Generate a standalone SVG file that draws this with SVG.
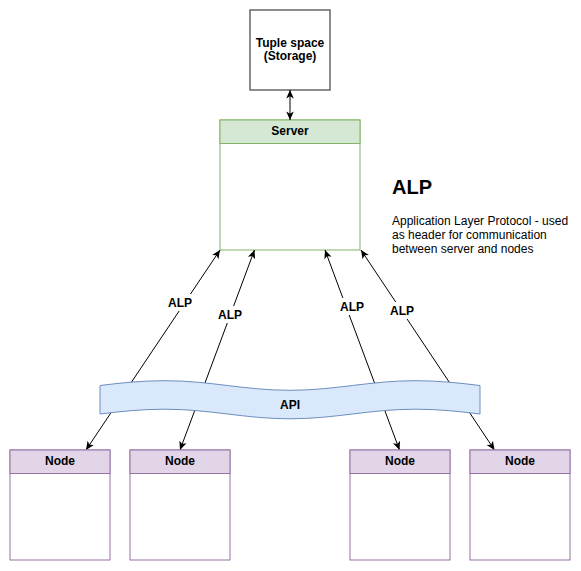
<svg xmlns="http://www.w3.org/2000/svg" width="581" height="571" viewBox="0 0 581 571">
<style>
text{font-family:"Liberation Sans",Arial,Helvetica,sans-serif;fill:#000}
.b{font-weight:bold;font-size:12px;text-anchor:middle}
.d{font-size:12px}
.srv{fill:#d5e8d4;stroke:#82b366;stroke-width:1}
.srvb{fill:#fff;stroke:#82b366;stroke-width:1}
.nd{fill:#e1d5e7;stroke:#9673a6;stroke-width:1}
.ndb{fill:#fff;stroke:#9673a6;stroke-width:1}
.edge{stroke:#000;stroke-width:1;fill:none;marker-start:url(#arr);marker-end:url(#arr)}
.lbg{fill:#fff}
</style>
<defs>
<marker id="arr" viewBox="-9 -5 10 10" refX="0" refY="0" markerWidth="10" markerHeight="10" markerUnits="userSpaceOnUse" orient="auto-start-reverse">
<path d="M0,0 L-8.5,-3.8 L-6.3,0 L-8.5,3.8 Z" fill="#000"/>
</marker>
</defs>
<rect width="581" height="571" fill="#fff"/>

<g id="tuple-space">
<rect x="250" y="10" width="80" height="80" fill="#fff" stroke="#666" stroke-width="1.5"/>
<text class="b" x="290" y="47">Tuple space</text>
<text class="b" x="290" y="60">(Storage)</text>
</g>

<g id="server">
<rect class="srvb" x="220" y="120" width="140" height="130"/>
<rect class="srv" x="220" y="120" width="140" height="23.5"/>
<text class="b" x="290" y="135">Server</text>
</g>

<g id="alp-note">
<text x="392" y="194" style="font-size:20px;font-weight:bold">ALP</text>
<text class="d" x="392" y="225">Application Layer Protocol - used</text>
<text class="d" x="392" y="239">as header for communication</text>
<text class="d" x="392" y="253">between server and nodes</text>
</g>

<g id="connectors">
<line class="edge" x1="290" y1="90" x2="290" y2="120"/>
<line class="edge" x1="220" y1="250" x2="86" y2="450"/>
<line class="edge" x1="254.5" y1="250" x2="180" y2="450"/>
<line class="edge" x1="325" y1="250" x2="399.5" y2="450"/>
<line class="edge" x1="361" y1="250" x2="494.5" y2="450"/>
<rect class="lbg" x="166" y="294" width="28" height="17"/>
<text class="b" x="180" y="306.5">ALP</text>
<rect class="lbg" x="216" y="306" width="28" height="17"/>
<text class="b" x="230" y="318.5">ALP</text>
<rect class="lbg" x="338" y="298" width="28" height="17"/>
<text class="b" x="352" y="310.5">ALP</text>
<rect class="lbg" x="388" y="302" width="28" height="17"/>
<text class="b" x="402" y="314.5">ALP</text>
</g>

<g id="api">
<path d="M100,385.5 C121.7,382.85 141.4,380.7 165,380.7 C210.5,380.7 244.5,390.3 290,390.3 C335.5,390.3 369.5,380.7 415,380.7 C438.6,380.7 458.3,382.85 480,385.5 L480,414 C458.3,411.35 438.6,409.2 415,409.2 C369.5,409.2 335.5,418.8 290,418.8 C244.5,418.8 210.5,409.2 165,409.2 C141.4,409.2 121.7,411.35 100,414 Z" fill="#dae8fc" stroke="#6c8ebf" stroke-width="1"/>
<text class="b" x="290" y="408.5">API</text>
</g>

<g id="node-1">
<rect class="ndb" x="10" y="450" width="100" height="110"/>
<rect class="nd" x="10" y="450" width="100" height="23.5"/>
<text class="b" x="60" y="465">Node</text>
</g>
<g id="node-2">
<rect class="ndb" x="130" y="450" width="100" height="110"/>
<rect class="nd" x="130" y="450" width="100" height="23.5"/>
<text class="b" x="180" y="465">Node</text>
</g>
<g id="node-3">
<rect class="ndb" x="350" y="450" width="100" height="110"/>
<rect class="nd" x="350" y="450" width="100" height="23.5"/>
<text class="b" x="400" y="465">Node</text>
</g>
<g id="node-4">
<rect class="ndb" x="470" y="450" width="100" height="110"/>
<rect class="nd" x="470" y="450" width="100" height="23.5"/>
<text class="b" x="520" y="465">Node</text>
</g>
</svg>
